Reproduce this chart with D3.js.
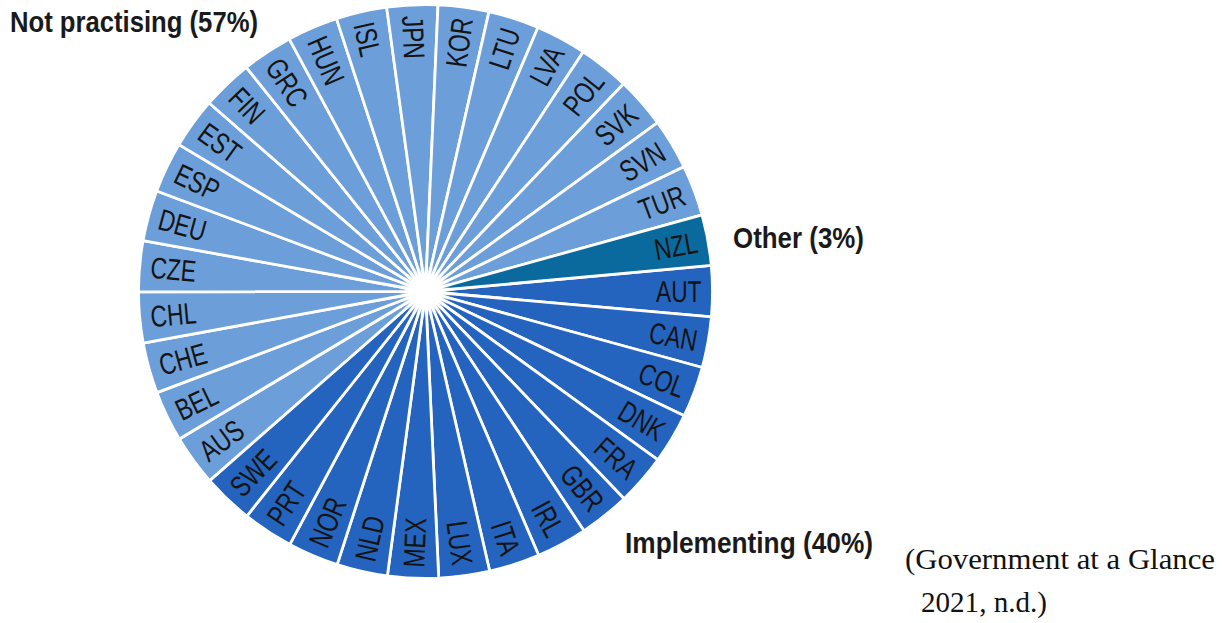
<!DOCTYPE html>
<html>
<head>
<meta charset="utf-8">
<script src="https://cdn.jsdelivr.net/npm/d3@7"></script>
<style>
  html, body { margin: 0; padding: 0; background: #ffffff; }
  svg { display: block; }
</style>
</head>
<body>
<div id="chart"></div>
<script>
// countries per group, in clockwise order
const implementing = ['AUT', 'CAN', 'COL', 'DNK', 'FRA', 'GBR', 'IRL', 'ITA', 'LUX', 'MEX', 'NLD', 'NOR', 'PRT', 'SWE'];
const notPractising = ['AUS', 'BEL', 'CHE', 'CHL', 'CZE', 'DEU', 'ESP', 'EST', 'FIN', 'GRC', 'HUN', 'ISL', 'JPN', 'KOR', 'LTU', 'LVA', 'POL', 'SVK', 'SVN', 'TUR'];
const other = ['NZL'];

const groupNames = ['Implementing', 'Not practising', 'Other'];
const groupShares = [40, 57, 3];
const groupColors = ['#2464bf', '#6c9fda', '#0b6a9d'];

const width = 1223;
const height = 623;
const cx = 425.5;
const cy = 291.5;
const radius = 287;
const labelRadius = radius - 11;
const startDeg = 2.5 + 8 * 360 / 35;
const narrow = '"Liberation Sans", Arial, Helvetica, sans-serif';

const slices = [
  ...implementing.map(c => ({ code: c, group: 0, count: 1 })),
  ...notPractising.map(c => ({ code: c, group: 1, count: 1 })),
  ...other.map(c => ({ code: c, group: 2, count: 1 })),
];

const svg = d3.select('#chart')
  .append('svg')
  .attr('width', width)
  .attr('height', height);

const defs = svg.append('defs');
const glow = defs.append('radialGradient').attr('id', 'hole');
glow.append('stop').attr('offset', '0.55').attr('stop-color', '#fff').attr('stop-opacity', 1);
glow.append('stop').attr('offset', '1').attr('stop-color', '#fff').attr('stop-opacity', 0);

const pie = d3.pie()
  .sort(null)
  .value(d => d.count)
  .startAngle(startDeg * Math.PI / 180)
  .endAngle(startDeg * Math.PI / 180 + 2 * Math.PI);

const arc = d3.arc()
  .innerRadius(0)
  .outerRadius(radius);

const g = svg.append('g')
  .attr('transform', `translate(${cx}, ${cy})`);

const arcs = pie(slices);

g.selectAll('path')
  .data(arcs)
  .enter()
  .append('path')
  .attr('d', arc)
  .attr('fill', d => groupColors[d.data.group])
  .attr('stroke', '#ffffff')
  .attr('stroke-width', 2.8)
  .attr('stroke-linejoin', 'round');

g.append('circle')
  .attr('r', 26)
  .attr('fill', 'url(#hole)');

// country codes, radial, reading left to right on each half
g.selectAll('text.code')
  .data(arcs)
  .enter()
  .append('text')
  .attr('class', 'code')
  .attr('transform', (d) => {
    const a = (d.startAngle + d.endAngle) / 2;
    const deg = a * 180 / Math.PI;
    const x = labelRadius * Math.sin(a);
    const y = -labelRadius * Math.cos(a);
    const flip = (deg % 360) > 180 ? ' rotate(180)' : '';
    return `translate(${x}, ${y}) rotate(${deg - 90})${flip} scale(0.76, 1)`;
  })
  .attr('text-anchor', (d) => {
    const deg = ((d.startAngle + d.endAngle) / 2) * 180 / Math.PI;
    return (deg % 360) > 180 ? 'start' : 'end';
  })
  .attr('dy', '0.36em')
  .attr('font-family', narrow)
  .attr('font-size', 30)
  .attr('fill', '#141414')
  .text(d => d.data.code);

// group labels
const groupLabels = [
  { i: 1, x: 10, y: 31.5, len: 248 },
  { i: 2, x: 733, y: 247.5, len: 131 },
  { i: 0, x: 625, y: 553.3, len: 248 },
];

svg.selectAll('text.group')
  .data(groupLabels)
  .enter()
  .append('text')
  .attr('class', 'group')
  .attr('x', d => d.x)
  .attr('y', d => d.y)
  .attr('font-family', narrow)
  .attr('font-weight', 'bold')
  .attr('font-size', 30)
  .attr('fill', '#1a1a1a')
  .attr('textLength', d => d.len)
  .attr('lengthAdjust', 'spacingAndGlyphs')
  .text(d => `${groupNames[d.i]} (${groupShares[d.i]}%)`);

// source note
svg.append('text')
  .attr('x', 905)
  .attr('y', 569)
  .attr('font-family', '"Liberation Serif", "DejaVu Serif", serif')
  .attr('font-size', 29)
  .attr('fill', '#111')
  .attr('textLength', 310)
  .attr('lengthAdjust', 'spacingAndGlyphs')
  .text('(Government at a Glance');

svg.append('text')
  .attr('x', 921)
  .attr('y', 612)
  .attr('font-family', '"Liberation Serif", "DejaVu Serif", serif')
  .attr('font-size', 29)
  .attr('fill', '#111')
  .attr('textLength', 126)
  .attr('lengthAdjust', 'spacingAndGlyphs')
  .text('2021, n.d.)');
</script>
</body>
</html>
